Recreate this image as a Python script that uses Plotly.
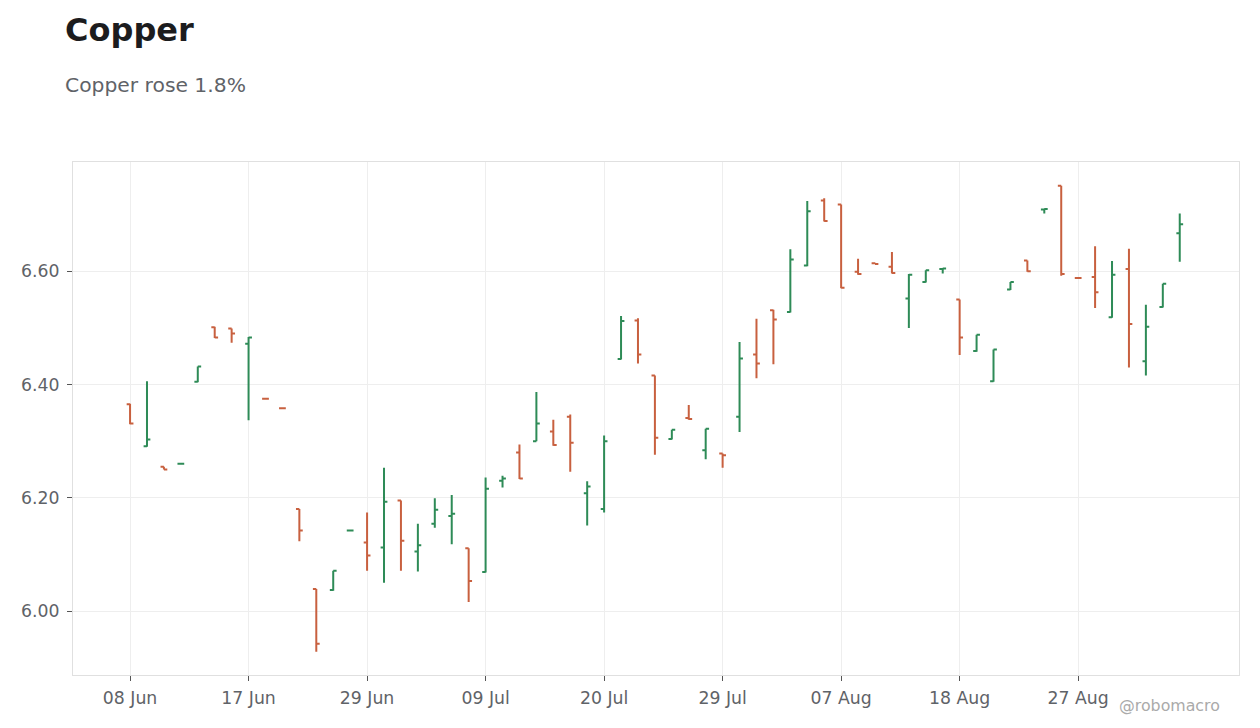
import pandas as pd
import plotly.graph_objects as go

# trading days (2020), one row per bar
dates = [
    "2020-06-08", "2020-06-09", "2020-06-10", "2020-06-11", "2020-06-12",
    "2020-06-15", "2020-06-16", "2020-06-17", "2020-06-18", "2020-06-22",
    "2020-06-23", "2020-06-24", "2020-06-25", "2020-06-26", "2020-06-29",
    "2020-06-30", "2020-07-01", "2020-07-02", "2020-07-06", "2020-07-07",
    "2020-07-08", "2020-07-09", "2020-07-10", "2020-07-13", "2020-07-14",
    "2020-07-15", "2020-07-16", "2020-07-17", "2020-07-20", "2020-07-21",
    "2020-07-22", "2020-07-23", "2020-07-24", "2020-07-27", "2020-07-28",
    "2020-07-29", "2020-07-30", "2020-07-31", "2020-08-03", "2020-08-04",
    "2020-08-05", "2020-08-06", "2020-08-07", "2020-08-10", "2020-08-11",
    "2020-08-12", "2020-08-13", "2020-08-14", "2020-08-17", "2020-08-18",
    "2020-08-19", "2020-08-20", "2020-08-21", "2020-08-24", "2020-08-25",
    "2020-08-26", "2020-08-27", "2020-08-28", "2020-08-31", "2020-09-01",
    "2020-09-02", "2020-09-03", "2020-09-04",
]

open_ = [
    6.365, 6.291, 6.255, 6.260, 6.405, 6.501, 6.499, 6.472, 6.375, 6.358,
    6.180, 6.039, 6.037, 6.142, 6.121, 6.112, 6.195, 6.105, 6.154, 6.168,
    6.111, 6.069, 6.230, 6.280, 6.300, 6.317, 6.343, 6.208, 6.180, 6.445,
    6.513, 6.416, 6.304, 6.341, 6.284, 6.278, 6.343, 6.453, 6.531, 6.528,
    6.610, 6.725, 6.718, 6.599, 6.614, 6.608, 6.552, 6.581, 6.604, 6.550,
    6.459, 6.406, 6.568, 6.619, 6.709, 6.751, 6.588, 6.590, 6.519, 6.604,
    6.441, 6.537, 6.667,
]
high = [
    6.366, 6.406, 6.255, 6.261, 6.432, 6.502, 6.499, 6.484, 6.376, 6.359,
    6.180, 6.039, 6.071, 6.143, 6.174, 6.253, 6.195, 6.154, 6.199, 6.205,
    6.111, 6.236, 6.239, 6.294, 6.387, 6.338, 6.347, 6.229, 6.310, 6.521,
    6.517, 6.416, 6.320, 6.364, 6.322, 6.278, 6.475, 6.516, 6.532, 6.639,
    6.724, 6.729, 6.718, 6.622, 6.615, 6.634, 6.595, 6.602, 6.605, 6.550,
    6.488, 6.462, 6.581, 6.619, 6.710, 6.751, 6.589, 6.644, 6.618, 6.640,
    6.541, 6.578, 6.702,
]
low = [
    6.330, 6.290, 6.250, 6.259, 6.404, 6.482, 6.474, 6.337, 6.374, 6.357,
    6.123, 5.928, 6.036, 6.141, 6.071, 6.050, 6.071, 6.070, 6.147, 6.118,
    6.016, 6.068, 6.218, 6.233, 6.300, 6.292, 6.246, 6.151, 6.174, 6.444,
    6.437, 6.276, 6.303, 6.338, 6.268, 6.253, 6.316, 6.411, 6.436, 6.527,
    6.609, 6.688, 6.570, 6.594, 6.613, 6.596, 6.500, 6.580, 6.596, 6.452,
    6.458, 6.405, 6.567, 6.599, 6.702, 6.592, 6.587, 6.535, 6.518, 6.430,
    6.416, 6.536, 6.617,
]
close = [
    6.331, 6.303, 6.250, 6.260, 6.432, 6.483, 6.490, 6.483, 6.375, 6.358,
    6.142, 5.942, 6.071, 6.142, 6.098, 6.193, 6.124, 6.116, 6.179, 6.172,
    6.053, 6.216, 6.234, 6.234, 6.331, 6.293, 6.297, 6.220, 6.300, 6.512,
    6.453, 6.306, 6.320, 6.339, 6.322, 6.275, 6.446, 6.437, 6.515, 6.621,
    6.706, 6.689, 6.571, 6.595, 6.613, 6.597, 6.594, 6.602, 6.605, 6.483,
    6.488, 6.462, 6.581, 6.600, 6.710, 6.595, 6.588, 6.563, 6.594, 6.507,
    6.502, 6.578, 6.683,
]

tick_dates = dates[::7][:9]
tick_text = [pd.Timestamp(d).strftime("%d %b") for d in tick_dates]

GREEN = "#2e8b57"
RED = "#c8603f"
FONT = "DejaVu Sans"

fig = go.Figure(go.Ohlc(
    x=dates, open=open_, high=high, low=low, close=close,
    increasing=dict(line=dict(color=GREEN, width=2)),
    decreasing=dict(line=dict(color=RED, width=2)),
    tickwidth=0.2,
    showlegend=False,
))

# page body adds 8px, so margins are trimmed to keep the plot where it should be
fig.update_layout(
    width=1260, height=728,
    margin=dict(l=65, r=29, t=154, b=61),
    paper_bgcolor="white", plot_bgcolor="white",
    font=dict(family=FONT, color="#5f6368", size=17.3),
    xaxis=dict(
        type="category", rangeslider=dict(visible=False),
        range=[-3.37, 65.5],
        tickvals=tick_dates, ticktext=tick_text,
        showgrid=True, gridcolor="#eeeeee",
        showline=True, linecolor="#e0e0e0", mirror=True,
        ticks="outside", ticklen=5, tickcolor="#555555",
        ticklabelstandoff=2,
    ),
    yaxis=dict(
        range=[5.887, 6.793], dtick=0.2, tick0=6.0, tickformat=".2f",
        showgrid=True, gridcolor="#eeeeee", zeroline=False,
        showline=True, linecolor="#e0e0e0", mirror=True,
        ticks="outside", ticklen=5, tickcolor="#555555",
        ticklabelstandoff=4,
    ),
    annotations=[
        dict(text="<b>Copper</b>", xref="paper", yref="paper",
             x=-0.0086, y=1.258, xanchor="left", yanchor="middle",
             showarrow=False, font=dict(size=32, color="#1c1c1e", family=FONT)),
        dict(text="Copper rose 1.8%", xref="paper", yref="paper",
             x=-0.0086, y=1.15, xanchor="left", yanchor="middle",
             showarrow=False, font=dict(size=20.3, color="#5f6368", family=FONT)),
        dict(text="@robomacro", xref="paper", yref="paper",
             x=0.9855, y=-0.059, xanchor="right", yanchor="middle",
             showarrow=False, font=dict(size=15.8, color="#aaaaaa", family=FONT)),
    ],
)

fig.write_html("out.html")
